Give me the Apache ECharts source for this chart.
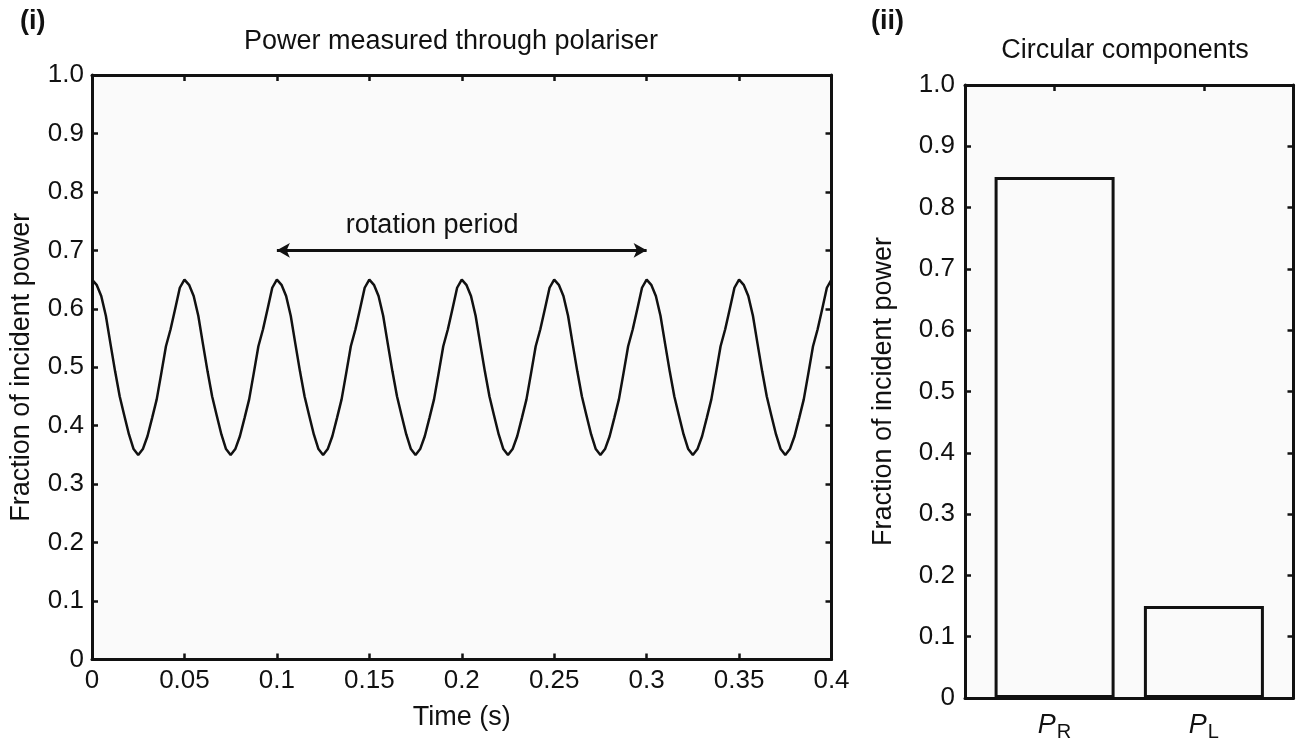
<!DOCTYPE html>
<html>
<head>
<meta charset="utf-8">
<script src="https://cdn.jsdelivr.net/npm/echarts@6/dist/echarts.min.js"></script>
<style>
  html, body { margin: 0; padding: 0; background: #fff; }
  #main { width: 1300px; height: 742px; }
</style>
</head>
<body>
<div id="main"></div>
<script>
// (i) power through the rotating polariser, one sample every 0.0025 s from 0 to 0.4 s
const sampleStep = 0.0025;
const powerFraction = [
  0.650, 0.641, 0.622, 0.588, 0.540, 0.493, 0.450, 0.417, 0.385, 0.360, 0.350, 0.360, 0.382, 0.413, 0.445, 0.490, 0.536, 0.565, 0.600, 0.636,
  0.650, 0.641, 0.622, 0.588, 0.540, 0.493, 0.450, 0.417, 0.385, 0.360, 0.350, 0.360, 0.382, 0.413, 0.445, 0.490, 0.536, 0.565, 0.600, 0.636,
  0.650, 0.641, 0.622, 0.588, 0.540, 0.493, 0.450, 0.417, 0.385, 0.360, 0.350, 0.360, 0.382, 0.413, 0.445, 0.490, 0.536, 0.565, 0.600, 0.636,
  0.650, 0.641, 0.622, 0.588, 0.540, 0.493, 0.450, 0.417, 0.385, 0.360, 0.350, 0.360, 0.382, 0.413, 0.445, 0.490, 0.536, 0.565, 0.600, 0.636,
  0.650, 0.641, 0.622, 0.588, 0.540, 0.493, 0.450, 0.417, 0.385, 0.360, 0.350, 0.360, 0.382, 0.413, 0.445, 0.490, 0.536, 0.565, 0.600, 0.636,
  0.650, 0.641, 0.622, 0.588, 0.540, 0.493, 0.450, 0.417, 0.385, 0.360, 0.350, 0.360, 0.382, 0.413, 0.445, 0.490, 0.536, 0.565, 0.600, 0.636,
  0.650, 0.641, 0.622, 0.588, 0.540, 0.493, 0.450, 0.417, 0.385, 0.360, 0.350, 0.360, 0.382, 0.413, 0.445, 0.490, 0.536, 0.565, 0.600, 0.636,
  0.650, 0.641, 0.622, 0.588, 0.540, 0.493, 0.450, 0.417, 0.385, 0.360, 0.350, 0.360, 0.382, 0.413, 0.445, 0.490, 0.536, 0.565, 0.600, 0.636,
  0.650
];
// arrow marking one rotation period
const periodStart = 0.1;
const periodEnd = 0.3;
const periodLevel = 0.7;
const periodText = 'rotation period';
const periodTextPos = [0.184, 0.742];

// (ii) circular components
const circularSubscripts = ['R', 'L'];
const circularPositions = [1, 2];
const circularValues = [0.85, 0.15];

const FONT = '"Liberation Sans", Arial, sans-serif';
const INK = '#111';
const PLOT_BG = '#fafafa';

const powerPoints = powerFraction.map((v, i) => [i * sampleStep, v]);
const barPoints = circularPositions.map((x, i) => [x, circularValues[i]]);

const yFmt = v => (v === 0 ? '0' : v.toFixed(1));

function frameAxis(extra) {
    return Object.assign({
        axisLine: { show: true, onZero: false, lineStyle: { color: INK, width: 3 } },
        axisTick: { show: true, inside: true, length: 6, lineStyle: { color: INK, width: 2.5 } },
        axisLabel: { show: false },
        splitLine: { show: false }
    }, extra);
}

const labelStyle = { show: true, color: INK, fontSize: 26, fontFamily: FONT };
const nameStyle = { fontSize: 27, color: INK, fontFamily: FONT };

var myChart = echarts.init(document.getElementById('main'));

var option = {
    backgroundColor: '#fff',
    animation: false,
    textStyle: { fontFamily: FONT },
    title: [
        { text: '(i)', left: 15, top: 3, textStyle: { fontSize: 27, fontWeight: 'bold', color: INK, fontFamily: FONT } },
        { text: 'Power measured through polariser', left: 446, top: 23, textAlign: 'center',
          textStyle: { fontSize: 27, fontWeight: 'normal', color: INK, fontFamily: FONT } },
        { text: '(ii)', left: 866, top: 3, textStyle: { fontSize: 27, fontWeight: 'bold', color: INK, fontFamily: FONT } },
        { text: 'Circular components', left: 1120, top: 32, textAlign: 'center',
          textStyle: { fontSize: 27, fontWeight: 'normal', color: INK, fontFamily: FONT } }
    ],
    grid: [
        { left: 90, right: 468.5, top: 75, bottom: 82.5, show: true, backgroundColor: PLOT_BG, borderWidth: 0 },
        { left: 965, right: 6.5, top: 85, bottom: 43, show: true, backgroundColor: PLOT_BG, borderWidth: 0 }
    ],
    xAxis: [
        frameAxis({
            type: 'value', gridIndex: 0, position: 'bottom', min: 0, max: 0.4, interval: 0.05,
            axisLabel: Object.assign({}, labelStyle, { margin: 8 }),
            name: 'Time (s)', nameLocation: 'middle', nameGap: 45,
            nameTextStyle: nameStyle
        }),
        frameAxis({ type: 'value', gridIndex: 0, position: 'top', min: 0, max: 0.4, interval: 0.05 }),
        frameAxis({
            type: 'value', gridIndex: 1, position: 'bottom', min: 0.4, max: 2.6,
            axisTick: { show: true, inside: true, length: 6, customValues: circularPositions, lineStyle: { color: INK, width: 2.5 } },
            axisLabel: {
                show: true, margin: 10, customValues: circularPositions,
                formatter: v => '{p|P}{s|' + circularSubscripts[circularPositions.indexOf(v)] + '}',
                rich: {
                    p: { fontSize: 27, fontStyle: 'italic', color: INK, fontFamily: FONT, lineHeight: 34 },
                    s: { fontSize: 20, color: INK, fontFamily: FONT, lineHeight: 34, padding: [14, 0, 0, 1] }
                }
            }
        }),
        frameAxis({
            type: 'value', gridIndex: 1, position: 'top', min: 0.4, max: 2.6,
            axisTick: { show: true, inside: true, length: 6, customValues: circularPositions, lineStyle: { color: INK, width: 2.5 } }
        })
    ],
    yAxis: [
        frameAxis({
            type: 'value', gridIndex: 0, position: 'left', min: 0, max: 1, interval: 0.1,
            axisLabel: Object.assign({}, labelStyle, { margin: 8, formatter: yFmt }),
            name: 'Fraction of incident power', nameLocation: 'middle', nameGap: 57,
            nameTextStyle: nameStyle
        }),
        frameAxis({ type: 'value', gridIndex: 0, position: 'right', min: 0, max: 1, interval: 0.1 }),
        frameAxis({
            type: 'value', gridIndex: 1, position: 'left', min: 0, max: 1, interval: 0.1,
            axisLabel: Object.assign({}, labelStyle, { margin: 10, formatter: yFmt }),
            name: 'Fraction of incident power', nameLocation: 'middle', nameGap: 68,
            nameTextStyle: nameStyle
        }),
        frameAxis({ type: 'value', gridIndex: 1, position: 'right', min: 0, max: 1, interval: 0.1 })
    ],
    series: [
        {
            type: 'line',
            xAxisIndex: 0, yAxisIndex: 0,
            data: powerPoints,
            showSymbol: false,
            silent: true,
            lineStyle: { color: INK, width: 2.5 },
            markLine: {
                silent: true,
                symbol: ['arrow', 'arrow'],
                symbolSize: [11, 13],
                label: { show: false },
                lineStyle: { color: INK, width: 3, type: 'solid' },
                data: [[{ coord: [periodStart, periodLevel] }, { coord: [periodEnd, periodLevel] }]]
            }
        },
        {
            // text for the rotation period arrow
            type: 'scatter',
            xAxisIndex: 0, yAxisIndex: 0,
            data: [periodTextPos],
            symbolSize: 0,
            silent: true,
            itemStyle: { opacity: 1 },
            label: { show: true, position: 'inside', formatter: periodText, color: INK, opacity: 1,
                     fontSize: 27, fontFamily: FONT, textBorderWidth: 0 }
        },
        {
            type: 'bar',
            xAxisIndex: 2, yAxisIndex: 2,
            data: barPoints,
            barWidth: 120,
            silent: true,
            itemStyle: { color: PLOT_BG, borderColor: INK, borderWidth: 3 }
        }
    ]
};

myChart.setOption(option);
</script>
</body>
</html>
